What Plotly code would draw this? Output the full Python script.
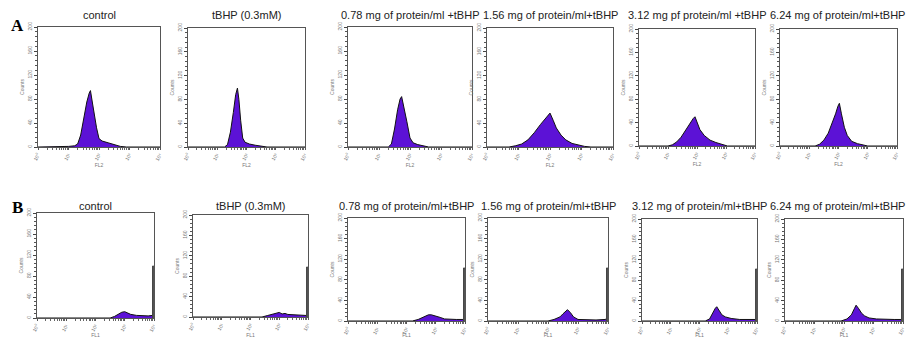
import plotly.graph_objects as go

# ---------------- data (log10 of FL channel, event counts) ----------------
titles_A = ["control", "tBHP (0.3mM)", "0.78 mg of protein/ml +tBHP",
            "1.56 mg of protein/ml+tBHP", "3.12 mg pf protein/ml +tBHP",
            "6.24 mg of protein/ml+tBHP"]
titles_B = ["control", "tBHP (0.3mM)", "0.78 mg of protein/ml+tBHP",
            "1.56 mg of protein/ml+tBHP", "3.12 mg of protein/ml+tBHP",
            "6.24 mg of protein/ml+tBHP"]

a1_log = [0, 0.8, 1.0, 1.2, 1.3, 1.4, 1.5, 1.6, 1.68, 1.72, 1.78, 1.85, 1.92, 2.0, 2.1, 2.3, 2.5, 2.7, 2.9, 4]
a1_counts = [0, 0, 1, 2, 5, 20, 48, 75, 90, 94, 75, 50, 32, 14, 10, 7, 4, 1, 0, 0]
a2_log = [0, 1.25, 1.35, 1.45, 1.55, 1.63, 1.69, 1.74, 1.8, 1.87, 1.95, 2.1, 2.3, 2.5, 2.7, 4]
a2_counts = [0, 0, 4, 25, 58, 88, 99, 80, 45, 15, 8, 5, 3, 1, 0, 0]
a3_log = [0, 1.3, 1.4, 1.5, 1.6, 1.68, 1.73, 1.8, 1.9, 2.0, 2.1, 2.25, 2.45, 2.6, 4]
a3_counts = [0, 0, 5, 30, 62, 80, 84, 68, 42, 15, 7, 4, 1, 0, 0]
a4_log = [0, 0.7, 0.9, 1.1, 1.3, 1.5, 1.7, 1.85, 1.95, 2.0, 2.1, 2.2, 2.35, 2.5, 2.7, 2.9, 3.1, 3.3, 4]
a4_counts = [0, 0, 2, 5, 12, 24, 38, 48, 55, 57, 45, 32, 20, 12, 6, 3, 1, 0, 0]
a5_log = [0, 1.0, 1.15, 1.3, 1.45, 1.6, 1.75, 1.87, 1.93, 2.0, 2.1, 2.25, 2.45, 2.65, 2.85, 3.05, 4]
a5_counts = [0, 0, 2, 7, 15, 27, 38, 47, 50, 42, 28, 18, 10, 6, 3, 0, 0]
a6_log = [0, 1.2, 1.35, 1.5, 1.65, 1.8, 1.9, 1.98, 2.03, 2.1, 2.2, 2.3, 2.45, 2.65, 2.85, 3.0, 4]
a6_counts = [0, 0, 3, 10, 22, 40, 55, 68, 73, 55, 32, 18, 8, 4, 2, 0, 0]

b1_log = [0, 2.5, 2.65, 2.8, 2.9, 3.0, 3.1, 3.2, 3.4, 3.6, 3.8, 3.95]
b1_counts = [0, 0, 3, 8, 11, 12, 9, 7, 5, 4, 4, 5]
b2_log = [0, 2.4, 2.6, 2.8, 2.9, 3.0, 3.1, 3.2, 3.3, 3.5, 3.7, 3.9, 3.95]
b2_counts = [0, 0, 3, 6, 8, 9, 6, 7, 5, 4, 3, 3, 3]
b3_log = [0, 2.2, 2.4, 2.6, 2.75, 2.85, 3.0, 3.15, 3.3, 3.5, 3.7, 3.9, 3.95]
b3_counts = [0, 0, 3, 8, 12, 12, 10, 7, 4, 3, 3, 3, 3]
b4_log = [0, 2.0, 2.2, 2.4, 2.5, 2.6, 2.65, 2.75, 2.85, 3.0, 3.3, 3.6, 3.9, 3.95]
b4_counts = [0, 0, 3, 8, 14, 20, 22, 16, 8, 3, 2, 2, 3, 4]
b5_log = [0, 2.2, 2.35, 2.45, 2.55, 2.6, 2.68, 2.78, 2.9, 3.1, 3.4, 3.7, 3.95]
b5_counts = [0, 0, 4, 15, 25, 28, 20, 12, 8, 5, 3, 3, 3]
b6_log = [0, 1.9, 2.1, 2.25, 2.35, 2.41, 2.5, 2.6, 2.7, 2.85, 3.1, 3.4, 3.7, 3.95]
b6_counts = [0, 0, 4, 12, 24, 31, 24, 15, 10, 6, 4, 3, 3, 3]
b_spike_counts = [99, 98, 103, 103, 102, 102]   # saturated last channel (FL1 = 10^4)

y_ticks = [0, 40, 80, 120, 160, 200]
x_tick_vals = [1, 10, 100, 1000, 10000]
x_tick_text = ["10⁰", "10¹", "10²", "10³", "10⁴"]

# ---------------- layout geometry (pixels) ----------------
W, H = 909, 338
boxes_A = [(38, 160, 27, 147), (188, 305, 28, 147), (348, 472, 27, 147),
           (487, 613, 28, 147), (639, 755, 29, 146), (780, 897, 29, 146)]
boxes_B = [(37, 154, 213, 318), (193, 308, 215, 317), (348, 465, 218, 321),
           (488, 608, 218, 321), (642, 757, 219, 321), (785, 903, 219, 321)]

PURPLE = "#5c12d6"

def px2x(p):
    return p / W

def py2y(p):
    return 1 - p / H

A_data = [(a1_log, a1_counts), (a2_log, a2_counts), (a3_log, a3_counts),
          (a4_log, a4_counts), (a5_log, a5_counts), (a6_log, a6_counts)]
B_data = [(b1_log, b1_counts), (b2_log, b2_counts), (b3_log, b3_counts),
          (b4_log, b4_counts), (b5_log, b5_counts), (b6_log, b6_counts)]

minor_vals = [m * 10 ** d for d in range(4) for m in range(2, 10)]

fig = go.Figure()
layout = dict(width=W, height=H, margin=dict(l=0, r=0, t=0, b=0),
              paper_bgcolor="white", plot_bgcolor="white", showlegend=False,
              font=dict(family="Liberation Sans, Arial, sans-serif", color="#222"))
annotations = []

panels = []
for i in range(6):
    panels.append(("A", i, boxes_A[i], A_data[i], titles_A[i], "FL2"))
for i in range(6):
    panels.append(("B", i, boxes_B[i], B_data[i], titles_B[i], "FL1"))

for k, (row, i, box, (lg, cnt), title, xname) in enumerate(panels):
    n = k + 1
    xa = "x" if n == 1 else f"x{n}"
    ya = "y" if n == 1 else f"y{n}"
    xkey = "xaxis" if n == 1 else f"xaxis{n}"
    ykey = "yaxis" if n == 1 else f"yaxis{n}"
    x0, x1, y0, y1 = box
    fig.add_trace(go.Scatter(x=[10 ** v for v in lg], y=cnt, xaxis=xa, yaxis=ya,
                             mode="lines", line=dict(color="#111", width=1),
                             fill="tozeroy", fillcolor=PURPLE, hoverinfo="skip"))
    if row == "B":
        s = b_spike_counts[i]
        fig.add_trace(go.Scatter(x=[10 ** 3.95, 10 ** 3.95, 10 ** 3.99, 10 ** 3.99],
                                 y=[0, s, s, 0], xaxis=xa, yaxis=ya, mode="lines",
                                 line=dict(color="#444", width=1), fill="toself",
                                 fillcolor="#666", hoverinfo="skip"))
    layout[xkey] = dict(domain=[px2x(x0), px2x(x1)], anchor=ya, type="log",
                        range=[0, 4], tickvals=x_tick_vals, ticktext=x_tick_text,
                        tickangle=-60, tickfont=dict(size=5, color="#777"),
                        ticks="outside", ticklen=2, tickcolor="#555",
                        minor=dict(tickvals=minor_vals, ticks="outside", ticklen=1.5,
                                   tickcolor="#666"),
                        showline=True, linecolor="#555", linewidth=1, mirror=True,
                        showgrid=False, zeroline=False, automargin=False,
                        title=dict(text=xname, font=dict(size=5, color="#777"), standoff=1))
    layout[ykey] = dict(domain=[py2y(y1), py2y(y0)], anchor=xa, range=[0, 200],
                        tickvals=y_ticks, tickangle=-90,
                        tickfont=dict(size=5, color="#777"),
                        ticks="outside", ticklen=3, tickcolor="#444",
                        minor=dict(dtick=8, ticks="outside", ticklen=2, tickcolor="#555"),
                        showline=True, linecolor="#555", linewidth=1, mirror=True,
                        showgrid=False, zeroline=False, automargin=False,
                        title=dict(text="Counts", font=dict(size=5, color="#777"), standoff=2))
    last = (i == 5)
    annotations.append(dict(text=title, xref="paper", yref="paper",
                            x=px2x(907) if last else px2x((x0 + x1) / 2),
                            y=py2y(15 if row == "A" else 206),
                            xanchor="right" if last else "center", yanchor="middle",
                            showarrow=False, font=dict(size=11, color="#222")))

for lab, yp in (("A", 25), ("B", 207)):
    annotations.append(dict(text=f"<b>{lab}</b>", xref="paper", yref="paper",
                            x=px2x(17), y=py2y(yp), xanchor="center", yanchor="middle",
                            showarrow=False,
                            font=dict(size=17, color="black",
                                      family="Liberation Serif, Times New Roman, serif")))

layout["annotations"] = annotations
fig.update_layout(**layout)
fig.write_html("out.html", config={"displayModeBar": False},
               post_script="document.body.style.margin='0';document.body.style.overflow='hidden';")
